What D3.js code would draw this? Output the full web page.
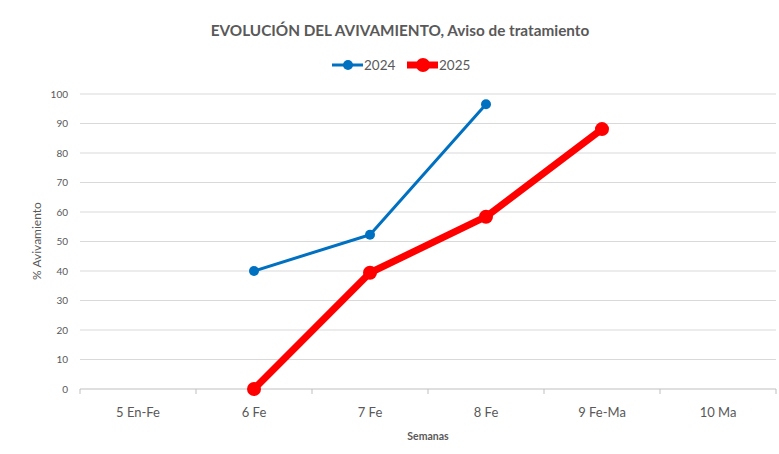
<!DOCTYPE html>
<meta charset="utf-8">
<style>
body { margin: 0; background: #fff; }
text { font-family: Lato, "Open Sans", sans-serif; }
.grid line { stroke: #d9d9d9; stroke-width: 1; }
</style>
<body>
<svg id="chart" width="779" height="454"></svg>
</body>
<script src="https://d3js.org/d3.v7.min.js"></script>
<script>

var weeks = ["5 En-Fe", "6 Fe", "7 Fe", "8 Fe", "9 Fe-Ma", "10 Ma"];
var values2024 = [null, 40, 52.3, 96.5, null, null];
var values2025 = [null, 0, 39.4, 58.4, 88.1, null];
var yTicks = [0, 10, 20, 30, 40, 50, 60, 70, 80, 90, 100];

var svg = d3.select("#chart"),
    margin = {top: 94, right: 3, bottom: 65, left: 80},
    width = +svg.attr("width") - margin.left - margin.right,
    height = +svg.attr("height") - margin.top - margin.bottom,
    g = svg.append("g").attr("transform", "translate(" + margin.left + "," + margin.top + ")");

var x = d3.scaleBand().domain(weeks).range([0, width]);
var y = d3.scaleLinear().domain([0, 100]).range([height, 0]);

// grid
g.append("g")
    .attr("class", "grid")
    .selectAll("line")
    .data(yTicks.slice(1))
    .enter().append("line")
      .attr("x1", 0).attr("x2", width)
      .attr("y1", function(d) { return y(d); })
      .attr("y2", function(d) { return y(d); });

// y labels
g.append("g")
    .selectAll("text")
    .data(yTicks)
    .enter().append("text")
      .attr("x", -12)
      .attr("y", function(d) { return y(d); })
      .attr("dy", "0.35em")
      .attr("text-anchor", "end")
      .attr("fill", "#595959")
      .style("font-size", "10px")
      .text(function(d) { return d; });

// x axis
var xAxis = g.append("g")
    .attr("transform", "translate(0," + height + ")");
xAxis.append("line")
    .attr("x1", 0).attr("x2", width)
    .attr("stroke", "#bfbfbf");
xAxis.selectAll(".tick")
    .data(weeks.concat(["end"]))
    .enter().append("line")
      .attr("x1", function(d, i) { return i * x.step(); })
      .attr("x2", function(d, i) { return i * x.step(); })
      .attr("y1", 0).attr("y2", 5)
      .attr("stroke", "#bfbfbf");
xAxis.selectAll(".lbl")
    .data(weeks)
    .enter().append("text")
      .attr("x", function(d) { return x(d) + x.bandwidth() / 2; })
      .attr("y", 28)
      .attr("text-anchor", "middle")
      .attr("fill", "#595959")
      .style("font-size", "13px")
      .text(function(d) { return d; });

// axis titles
svg.append("text")
    .attr("x", margin.left + width / 2)
    .attr("y", 440)
    .attr("text-anchor", "middle")
    .attr("fill", "#595959")
    .style("font-size", "10.5px")
    .style("font-weight", "bold")
    .text("Semanas");

svg.append("text")
    .attr("transform", "translate(41,241) rotate(-90)")
    .attr("text-anchor", "middle")
    .attr("fill", "#595959")
    .style("font-size", "12px")
    .text("% Avivamiento");

// title
svg.append("text")
    .attr("x", 400)
    .attr("y", 36)
    .attr("text-anchor", "middle")
    .attr("fill", "#595959")
    .style("font-size", "15.3px")
    .style("font-weight", "bold")
    .text("EVOLUCIÓN DEL AVIVAMIENTO, Aviso de tratamiento");

var series = [
  {name: "2024", values: values2024, color: "#0070C0", lw: 3, r: 5},
  {name: "2025", values: values2025, color: "#FF0000", lw: 7, r: 7}
];

var line = d3.line()
    .defined(function(d) { return d != null; })
    .x(function(d, i) { return x(weeks[i]) + x.bandwidth() / 2; })
    .y(function(d) { return y(d); });

series.slice().reverse().forEach(function(s) {
  var sg = g.append("g");
  sg.append("path")
      .datum(s.values)
      .attr("fill", "none")
      .attr("stroke", s.color)
      .attr("stroke-width", s.lw)
      .attr("stroke-linejoin", "round")
      .attr("d", line);
  sg.selectAll("circle")
      .data(s.values.map(function(v, i) { return {v: v, i: i}; }).filter(function(d) { return d.v != null; }))
      .enter().append("circle")
        .attr("cx", function(d) { return x(weeks[d.i]) + x.bandwidth() / 2; })
        .attr("cy", function(d) { return y(d.v); })
        .attr("r", s.r)
        .attr("fill", s.color);
});

// legend
var legend = svg.selectAll(".legend")
    .data(series)
    .enter().append("g")
      .attr("class", "legend")
      .attr("transform", function(d, i) { return "translate(" + (332 + i * 75) + ",65)"; });
legend.append("line")
    .attr("x1", 0).attr("x2", 31)
    .attr("stroke", function(d) { return d.color; })
    .attr("stroke-width", function(d) { return d.lw; });
legend.append("circle")
    .attr("cx", 16)
    .attr("r", function(d) { return d.r; })
    .attr("fill", function(d) { return d.color; });
legend.append("text")
    .attr("x", 32)
    .attr("dy", "0.35em")
    .attr("fill", "#595959")
    .style("font-size", "13.5px")
    .text(function(d) { return d.name; });

</script>
